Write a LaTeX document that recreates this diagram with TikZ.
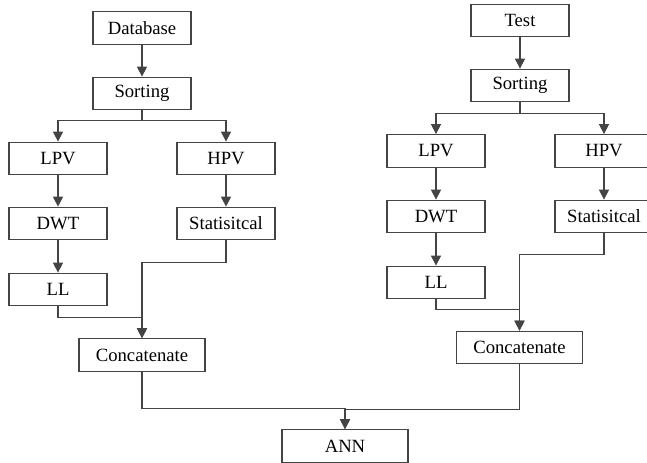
\documentclass[tikz,border=0pt]{standalone}
\usepackage{fontspec}
\setmainfont{Liberation Serif}
\usepackage{tikz}
\usetikzlibrary{arrows.meta,positioning}
\definecolor{linegray}{HTML}{444444}

\begin{document}
\begin{tikzpicture}[x=0.75pt,y=-0.75pt, every node/.style={font=\fontsize{14}{16}\selectfont},
  box/.style={draw=linegray,line width=0.8pt,fill=white,minimum width=73.5pt,
              minimum height=24.5pt,inner sep=2pt,align=center},
  widebox/.style={box,minimum width=94.5pt},
  ar/.style={-{Triangle[length=7.5pt,width=7.5pt]},draw=linegray,line width=0.8pt}]
\useasboundingbox (0,0) rectangle (647,463);
% training branch
\node[box] (db) at (142,28) {Database};
\node[box] (sort1) at (142,93.5) {Sorting};
\node[box] (lpv1) at (58,158.5) {LPV};
\node[box] (hpv1) at (226,158.5) {HPV};
\node[box] (dwt1) at (58,223.5) {DWT};
\node[box] (stat1) at (226,223.5) {Statisitcal};
\node[box] (ll1) at (58,289.5) {LL};
\node[widebox] (cat1) at (142,355) {Concatenate};
% test branch
\node[box] (test) at (520,20.5) {Test};
\node[box] (sort2) at (520,85.5) {Sorting};
\node[box] (lpv2) at (436,151) {LPV};
\node[box] (hpv2) at (604,151) {HPV};
\node[box] (dwt2) at (436,216.5) {DWT};
\node[box] (stat2) at (604,216.5) {Statisitcal};
\node[box] (ll2) at (436,282.5) {LL};
\node[widebox] (cat2) at (519.5,347.5) {Concatenate};
% classifier
\node[widebox] (ann) at (345,446) {ANN};

\draw[ar] (db) -- (sort1);
\draw[ar] (sort1.south) -- ++(0,10) -| (lpv1.north);
\draw[ar] (sort1.south) -- ++(0,10) -| (hpv1.north);
\draw[ar] (lpv1) -- (dwt1); \draw[ar] (hpv1) -- (stat1);
\draw[ar] (dwt1) -- (ll1);
\draw[ar] (stat1.south) -- ++(0,22) -| (cat1.north);
\draw[ar] (ll1.south) -- ++(0,11) -| (cat1.north);

\draw[ar] (test) -- (sort2);
\draw[ar] (sort2.south) -- ++(0,11) -| (lpv2.north);
\draw[ar] (sort2.south) -- ++(0,11) -| (hpv2.north);
\draw[ar] (lpv2) -- (dwt2); \draw[ar] (hpv2) -- (stat2);
\draw[ar] (dwt2) -- (ll2);
\draw[ar] (stat2.south) -- ++(0,21) -| (cat2.north);
\draw[ar] (ll2.south) -- ++(0,10) -| (cat2.north);

\draw[ar] (cat1.south) -- ++(0,37) -| (ann.north);
\draw[ar] (cat2.south) -- ++(0,45) -| (ann.north);
\end{tikzpicture}
\end{document}
